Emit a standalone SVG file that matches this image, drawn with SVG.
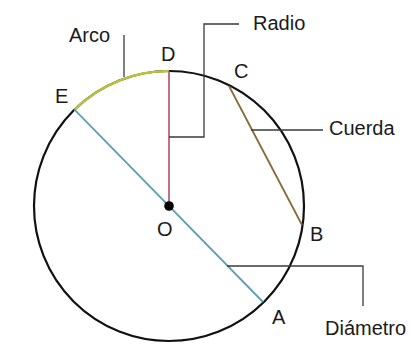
<svg xmlns="http://www.w3.org/2000/svg" width="412" height="357" viewBox="0 0 412 357">
<style>
text{font-family:"Liberation Sans",Arial,sans-serif;font-size:20px;fill:#1a1a1a}
.leader{fill:none;stroke:#3a3a3a;stroke-width:1.3}
</style>
<rect width="412" height="357" fill="#ffffff"/>
<g id="circle">
<circle cx="169" cy="206" r="135" fill="none" stroke="#111" stroke-width="2.2"/>
<path d="M74.5,109.6 A135,135 0 0 1 169,71" fill="none" stroke="#b8c43c" stroke-width="2.4"/>
</g>
<g id="segments">
<line x1="74.5" y1="109.6" x2="263" y2="302" stroke="#5e9fb4" stroke-width="1.8"/>
<line x1="169" y1="71" x2="169" y2="206" stroke="#b44a62" stroke-width="1.6"/>
<line x1="229" y1="86" x2="302" y2="225" stroke="#8a6a3a" stroke-width="1.8"/>
<circle cx="169" cy="206" r="4.8" fill="#000"/>
</g>
<g id="connectors">
<polyline class="leader" points="124,35 124,77"/>
<polyline class="leader" points="239,24 204,24 204,137 169,137"/>
<polyline class="leader" points="251,130 323,130"/>
<polyline class="leader" points="227,266 363,266 363,306"/>
</g>
<g id="points">
<text x="161" y="61">D</text>
<text x="234" y="78">C</text>
<text x="55" y="103">E</text>
<text x="157" y="236">O</text>
<text x="310" y="241">B</text>
<text x="272" y="324">A</text>
</g>
<g id="labels">
<text x="69" y="42">Arco</text>
<text x="253" y="30">Radio</text>
<text x="329" y="135">Cuerda</text>
<text x="325" y="335">Diámetro</text>
</g>
</svg>
